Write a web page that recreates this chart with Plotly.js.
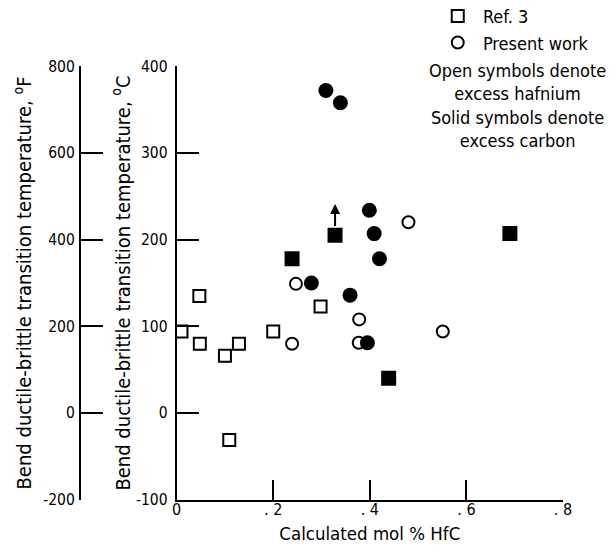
<!DOCTYPE html>
<html>
<head>
<meta charset="utf-8">
<script src="https://cdn.plot.ly/plotly-3.0.1.min.js"></script>
<style>html,body{margin:0;padding:0;background:#fff;}#chart{width:610px;height:546px;}</style>
</head>
<body>
<div id="chart"></div>
<script>
// Ref. 3 data (squares)
const refOpenX  = [0.010, 0.047, 0.048, 0.100, 0.129, 0.109, 0.200, 0.298];
const refOpenY  = [94, 135, 80, 66, 80, -31, 94, 123];
const refSolidX = [0.239, 0.328, 0.439, 0.690];
const refSolidY = [178, 205, 40, 207];
// Present work (circles)
const presOpenX  = [0.247, 0.239, 0.378, 0.377, 0.480, 0.551];
const presOpenY  = [149, 80, 108, 81, 220, 94];
const presSolidX = [0.309, 0.339, 0.399, 0.409, 0.420, 0.279, 0.359, 0.395];
const presSolidY = [372, 358, 234, 207, 178, 150, 136, 81];
// arrow on the solid square at x = .328 (value is a lower bound)
const arrowX = 0.328, arrowFrom = 214, arrowTo = 241;

const xTickVals = [0, 0.2, 0.4, 0.6, 0.8];
const xTickText = ['0', '. 2', '. 4', '. 6', '. 8'];
const cTickVals = [-100, 0, 100, 200, 300, 400];
const cTickText = ['-100', '0', '100', '200', '300', '400'];
const fTickVals = [-200, 0, 200, 400, 600, 800];
const fTickText = ['-200', '0', '200', '400', '600', '800'];

const FONT = '"DejaVu Sans Condensed", "Liberation Sans Narrow", sans-serif';

const traces = [
  {x: refOpenX, y: refOpenY, type: 'scatter', mode: 'markers', name: '\u00a0Ref. 3', showlegend: true,
   marker: {symbol: 'square-open', size: 12, color: '#000', line: {width: 2, color: '#000'}}},
  {x: presOpenX, y: presOpenY, type: 'scatter', mode: 'markers', name: '\u00a0Present work', showlegend: true,
   marker: {symbol: 'circle-open', size: 12, color: '#000', line: {width: 2, color: '#000'}}},
  {x: refSolidX, y: refSolidY, type: 'scatter', mode: 'markers', name: 'Ref. 3 (excess carbon)', showlegend: false,
   marker: {symbol: 'square', size: 15, color: '#000'}},
  {x: presSolidX, y: presSolidY, type: 'scatter', mode: 'markers', name: 'Present work (excess carbon)', showlegend: false,
   marker: {symbol: 'circle', size: 15, color: '#000'}},
  {x: [null], y: [null], yaxis: 'y2', type: 'scatter', mode: 'markers', showlegend: false, hoverinfo: 'skip'}
];

const layout = {
  width: 610, height: 546,
  margin: {l: 60, r: 46.7, t: 40, b: 20, autoexpand: false},
  paper_bgcolor: '#fff', plot_bgcolor: '#fff',
  font: {family: FONT, size: 16, color: '#000'},
  showlegend: true,
  legend: {x: 0.751, y: 1.0866, xanchor: 'left', yanchor: 'top', bgcolor: 'rgba(0,0,0,0)',
           font: {family: FONT, size: 18, color: '#000'}, tracegroupgap: 0},
  xaxis: {
    domain: [0.2319, 1], range: [0, 0.8], anchor: 'y', automargin: false,
    showgrid: false, zeroline: false, showline: true, linecolor: '#000', linewidth: 2,
    ticks: 'inside', ticklen: 20, tickwidth: 2, tickcolor: '#000',
    tickvals: xTickVals, ticktext: xTickText, tickfont: {family: FONT, size: 16},
    ticklabelstandoff: -6,
    title: {text: 'Calculated mol % HfC', font: {family: FONT, size: 18.5}, standoff: 9}
  },
  yaxis: {
    domain: [0.0541, 0.9459], range: [-100, 400], anchor: 'x', automargin: false,
    showgrid: false, zeroline: false, showline: true, linecolor: '#000', linewidth: 2,
    ticks: 'inside', ticklen: 22, tickwidth: 2, tickcolor: '#000',
    tickvals: cTickVals, ticktext: cTickText, tickfont: {family: FONT, size: 15.5},
    ticklabelstandoff: 4,
    title: {text: 'Bend ductile-brittle transition temperature, <sup>o</sup>C', font: {family: FONT, size: 20}, standoff: 0}
  },
  yaxis2: {
    domain: [0.0021, 0.9932], range: [-200, 800], anchor: 'free', overlaying: 'y', side: 'left', position: 0.0397, automargin: false,
    showgrid: false, zeroline: false, showline: true, linecolor: '#000', linewidth: 2,
    ticks: 'inside', ticklen: 22, tickwidth: 2, tickcolor: '#000',
    tickvals: fTickVals, ticktext: fTickText, tickfont: {family: FONT, size: 15.5},
    ticklabelstandoff: 1,
    title: {text: 'Bend ductile-brittle transition temperature, <sup>o</sup>F', font: {family: FONT, size: 20}, standoff: 5}
  },
  annotations: [
    {x: arrowX, y: arrowTo, ax: arrowX, ay: arrowFrom, xref: 'x', yref: 'y', axref: 'x', ayref: 'y',
     text: '', showarrow: true, arrowhead: 2, arrowsize: 1, arrowwidth: 2, arrowcolor: '#000'},
    {xref: 'paper', yref: 'paper', x: (518 - 60) / 503.3, y: (526 - 105) / 486, xanchor: 'center', yanchor: 'middle',
     text: 'Open symbols denote<br>excess hafnium<br>Solid symbols denote<br>excess carbon',
     align: 'center', showarrow: false, font: {family: FONT, size: 18, color: '#000'}}
  ]
};

Plotly.newPlot('chart', traces, layout, {staticPlot: true, displayModeBar: false});
</script>
</body>
</html>
